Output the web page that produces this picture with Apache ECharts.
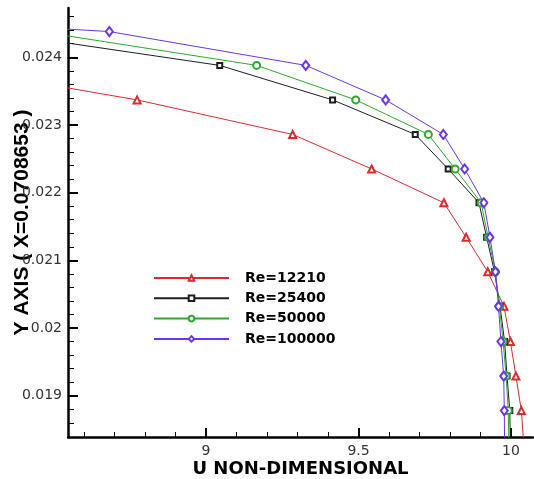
<!DOCTYPE html>
<html>
<head>
<meta charset="utf-8">
<script src="https://cdn.jsdelivr.net/npm/echarts@6/dist/echarts.min.js"></script>
<style>html,body{margin:0;padding:0;background:#fff;}#c{width:534px;height:479px;}</style>
</head>
<body>
<div id="c"></div>
<script>
// y positions of the profile points (shared grid)
var yGrid = [0.02489, 0.02438, 0.02388, 0.02337, 0.02286, 0.02235, 0.02185, 0.02134, 0.02083, 0.02032, 0.01980, 0.01929, 0.01878, 0.01827];
// U non-dimensional per series (null = no point)
var uRe12210  = [null, null, 8.12, 8.774, 9.284, 9.543, 9.780, 9.853, 9.924, 9.977, 9.998, 10.016, 10.034, 10.042];
var uRe25400  = [null, 8.29, 9.045, 9.415, 9.686, 9.794, 9.895, 9.920, 9.946, 9.964, 9.979, 9.987, 9.996, 9.998];
var uRe50000  = [null, 8.455, 9.166, 9.491, 9.729, 9.817, 9.902, 9.925, 9.949, 9.962, 9.974, 9.984, 9.991, 9.993];
var uRe100000 = [6.73, 8.683, 9.327, 9.589, 9.778, 9.848, 9.911, 9.931, 9.949, 9.959, 9.967, 9.976, 9.978, 9.979];
var seriesNames = ['Re=12210', 'Re=25400', 'Re=50000', 'Re=100000'];
// tick values
var xMajorTicks = [9, 9.5, 10];
var xMinorTicks = [8.6, 8.7, 8.8, 8.9, 9.1, 9.2, 9.3, 9.4, 9.6, 9.7, 9.8, 9.9];
var yMajorTicks = [0.019, 0.020, 0.021, 0.022, 0.023, 0.024];
var yMinorTicks = [0.0186, 0.0188, 0.0192, 0.0194, 0.0196, 0.0198, 0.0202, 0.0204, 0.0206, 0.0208,
                   0.0212, 0.0214, 0.0216, 0.0218, 0.0222, 0.0224, 0.0226, 0.0228,
                   0.0232, 0.0234, 0.0236, 0.0238, 0.0242, 0.0244, 0.0246];

var X_MIN = 8.5475, X_MAX = 10.0721, Y_MIN = 0.01839, Y_MAX = 0.024728;

function pairs(us) {
  var out = [];
  for (var i = 0; i < us.length; i++) {
    if (us[i] !== null) out.push([us[i], yGrid[i]]);
  }
  return out;
}

var colors = ['#dc2a2e', '#1e1e1e', '#2aab2a', '#6a35ea'];
var symbols = ['emptyTriangle', 'emptyRect', 'emptyCircle', 'emptyDiamond'];
var symSizes = [7, 5, 7, [7, 9]];
var allU = [uRe12210, uRe25400, uRe50000, uRe100000];

var series = allU.map(function (u, i) {
  return {
    name: seriesNames[i],
    type: 'line',
    data: pairs(u),
    xAxisIndex: 0,
    yAxisIndex: 0,
    symbol: symbols[i],
    symbolSize: symSizes[i],
    showAllSymbol: true,
    clip: true,
    color: colors[i],
    lineStyle: { width: 1, color: colors[i] },
    itemStyle: { color: colors[i], borderColor: colors[i], borderWidth: 1 },
    animation: false
  };
});

var labelFont = { fontFamily: 'DejaVu Sans', fontSize: 14, color: '#333' };

var chart = echarts.init(document.getElementById('c'), null, { renderer: 'canvas' });
chart.setOption({
  backgroundColor: '#fff',
  animation: false,
  grid: { left: 68, right: 1, top: 8, bottom: 42, containLabel: false, outerBoundsMode: 'none' },
  legend: {
    left: 148, top: 266, orient: 'vertical',
    itemWidth: 75, itemHeight: 7, itemGap: 6.3,
    data: seriesNames,
    textStyle: { fontFamily: 'DejaVu Sans', fontWeight: 'bold', fontSize: 14, lineHeight: 14, color: '#000', padding: [0, 0, 0, 11] }
  },
  xAxis: [{
    type: 'value', min: X_MIN, max: X_MAX, position: 'bottom',
    name: 'U NON-DIMENSIONAL', nameLocation: 'middle', nameGap: 23, nameMoveOverlap: false,
    nameTextStyle: { fontFamily: 'DejaVu Sans', fontWeight: 'bold', fontSize: 18, color: '#000' },
    axisLine: { show: true, onZero: false, lineStyle: { color: '#000', width: 2.5 } },
    axisTick: { show: true, inside: true, length: 9, customValues: xMajorTicks, lineStyle: { color: '#000', width: 2 } },
    axisLabel: { show: true, margin: 7, customValues: xMajorTicks, fontFamily: labelFont.fontFamily, fontSize: labelFont.fontSize, color: labelFont.color },
    splitLine: { show: false }
  }, {
    type: 'value', min: X_MIN, max: X_MAX, position: 'bottom', gridIndex: 0,
    axisLine: { show: false, onZero: false },
    axisTick: { show: true, inside: true, length: 5, customValues: xMinorTicks, lineStyle: { color: '#000', width: 1 } },
    axisLabel: { show: false },
    splitLine: { show: false }
  }],
  yAxis: [{
    type: 'value', min: Y_MIN, max: Y_MAX, position: 'left',
    name: 'Y AXIS ( X=0.0708653 )', nameLocation: 'middle', nameGap: 35, nameRotate: 90, nameMoveOverlap: false,
    nameTextStyle: { fontFamily: 'Liberation Sans', fontWeight: 'bold', fontSize: 21, color: '#000' },
    axisLine: { show: true, onZero: false, lineStyle: { color: '#000', width: 2.5 } },
    axisTick: { show: true, inside: true, length: 10, customValues: yMajorTicks, lineStyle: { color: '#000', width: 2 } },
    axisLabel: { show: true, margin: 6, customValues: yMajorTicks, fontFamily: labelFont.fontFamily, fontSize: labelFont.fontSize, color: labelFont.color,
      formatter: function (v) { return String(+v.toFixed(3)); } },
    splitLine: { show: false }
  }, {
    type: 'value', min: Y_MIN, max: Y_MAX, position: 'left', gridIndex: 0,
    axisLine: { show: false, onZero: false },
    axisTick: { show: true, inside: true, length: 6, customValues: yMinorTicks, lineStyle: { color: '#000', width: 1 } },
    axisLabel: { show: false },
    splitLine: { show: false }
  }],
  series: series
});
</script>
</body>
</html>
